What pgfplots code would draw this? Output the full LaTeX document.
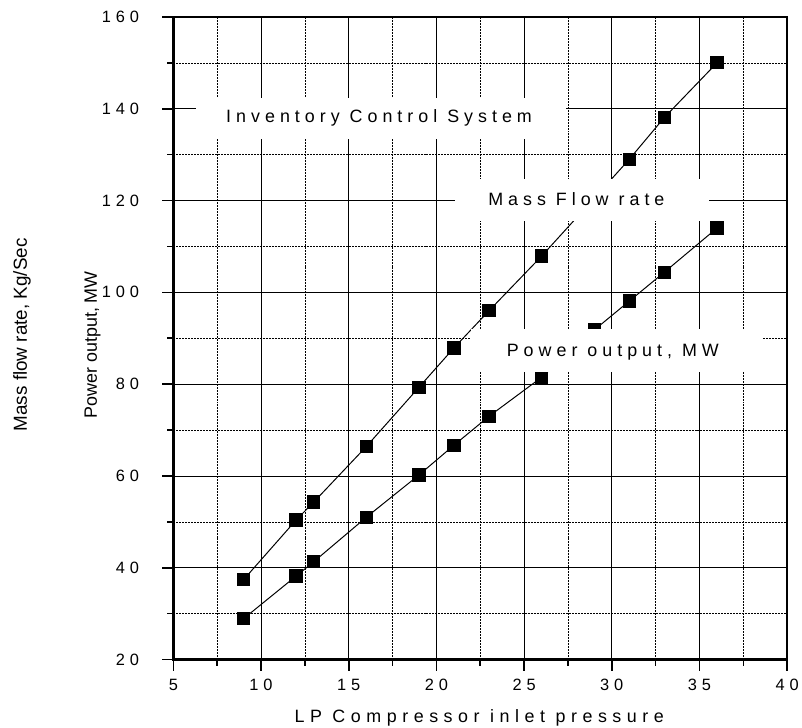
\documentclass[border=0pt]{standalone}
\usepackage{fontspec}
\setmainfont{Liberation Sans}
\newfontfamily\spaced[LetterSpace=28]{Liberation Sans}
\newfontfamily\spacedL[LetterSpace=31]{Liberation Sans}
\newfontfamily\spacedT[LetterSpace=30]{Liberation Sans}
\usepackage{pgfplots}
\pgfplotsset{compat=1.18}

\begin{document}
\begin{tikzpicture}
\begin{axis}[
  set layers,
  scale only axis, width=616bp, height=645bp,
  xmin=5, xmax=40, ymin=20, ymax=160,
  xtick={5,10,...,40}, ytick={20,40,...,160},
  minor x tick num=1, minor y tick num=1,
  grid=both,
  major grid style={black, line width=0.9pt},
  minor grid style={black, line width=0.6pt, dash pattern=on 2pt off 1pt},
  axis line style={black, line width=2.4pt},
  tick pos=left, tick align=outside,
  major tick length=11bp, minor tick length=6bp,
  tick style={black, line width=1.6pt},
  /pgf/number format/assume math mode=true,
  ticklabel style={font=\fontsize{16.5}{18}\spacedT},
  xticklabel style={yshift=-5bp},
  yticklabel style={xshift=-20bp},
  clip marker paths=true,
]
\coordinate (O) at (rel axis cs:0,0);

\addplot[black, line width=1pt, mark=square*, mark size=6.2pt] coordinates {
 (9,37.4) (12,50.4) (13,54.3) (16,66.4) (19,79.3) (21,87.9) (23,96) (26,107.9)
 (29,120.5) (31,129) (33,138.1) (36,150)
};
\addplot[black, line width=1pt, mark=square*, mark size=6.2pt] coordinates {
 (9,28.9) (12,38.2) (13,41.3) (16,51) (19,60.2) (21,66.7) (23,73) (26,81.5)
 (29,91.8) (31,98.1) (33,104.4) (36,114)
};

\fill[white, on layer=axis foreground] (axis cs:6.3,133.3) rectangle (axis cs:27.4,142.4);
\node[inner sep=0, on layer=axis foreground] at (axis cs:16.73,138.1) {\fontsize{18}{20}\spaced Inventory Control System};
\fill[white, on layer=axis foreground] (axis cs:21.08,115.5) rectangle (axis cs:35.57,124.6);
\node[inner sep=0, on layer=axis foreground] at (axis cs:27.98,120.3) {\fontsize{18}{20}\spaced Mass Flow rate};
\fill[white, on layer=axis foreground] (axis cs:21.99,82.7) rectangle (axis cs:38.64,92.06);
\node[inner sep=0, on layer=axis foreground] at (axis cs:30.06,87.07) {\fontsize{18}{20}\spaced Power output, MW};
\draw[black, line width=2.4pt, on layer=axis foreground] (rel axis cs:0,0) rectangle (rel axis cs:1,1);
\end{axis}

\node[rotate=90, inner sep=0] at ([shift={(-152bp,326bp)}]O) {\fontsize{19}{21}\selectfont Mass flow rate, Kg/Sec};
\node[rotate=90, inner sep=0] at ([shift={(-81bp,316bp)}]O) {\fontsize{18}{20}\selectfont Power output, MW};
\node[inner sep=0] at ([shift={(307bp,-58bp)}]O) {\fontsize{18}{20}\spacedL LP Compressor inlet pressure};

\path ([shift={(-174bp,-68bp)}]O) rectangle ([shift={(628bp,662bp)}]O);
\end{tikzpicture}
\end{document}
